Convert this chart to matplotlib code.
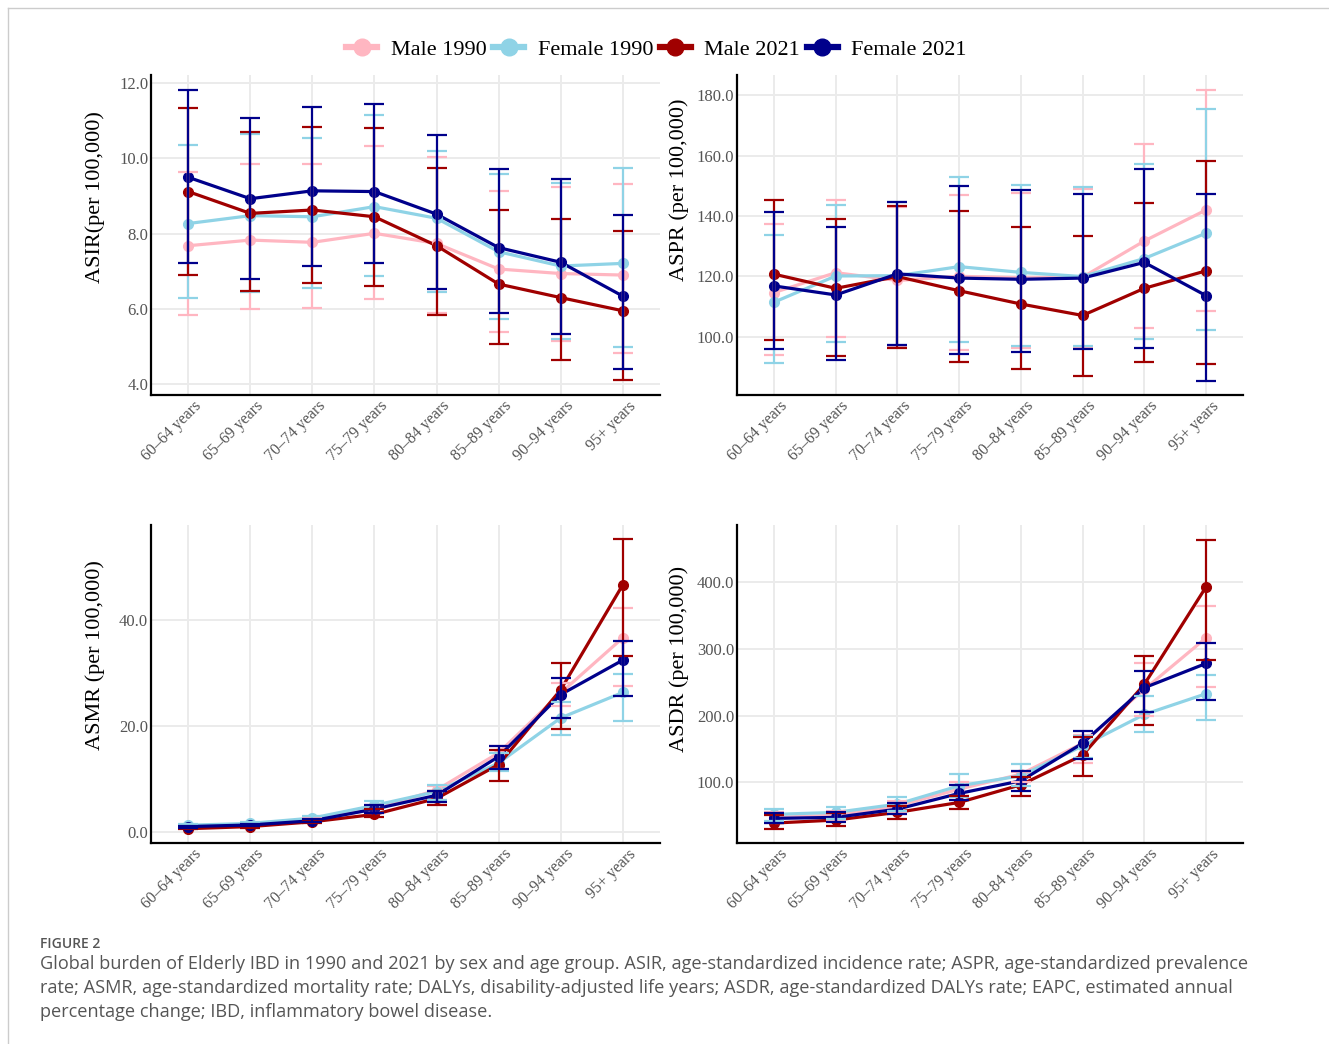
import numpy as np
import matplotlib
matplotlib.use('Agg')
import matplotlib.pyplot as plt
import matplotlib.transforms as mtransforms
from matplotlib.lines import Line2D

plt.rcParams['font.family'] = 'Liberation Serif'

ages = ['60–64 years', '65–69 years', '70–74 years', '75–79 years',
        '80–84 years', '85–89 years', '90–94 years', '95+ years']
series = ['Male 1990', 'Female 1990', 'Male 2021', 'Female 2021']
colors = ['#FFB6C1', '#8FD3E6', '#A00000', '#00008B']

# ASIR
asir_m1990 = [7.68, 7.83, 7.77, 8.01, 7.74, 7.06, 6.94, 6.90]
asir_m1990_lo = [5.84, 6.00, 6.03, 6.27, 5.88, 5.39, 5.14, 4.82]
asir_m1990_hi = [9.63, 9.85, 9.86, 10.34, 10.04, 9.14, 9.25, 9.31]
asir_f1990 = [8.27, 8.48, 8.45, 8.72, 8.41, 7.52, 7.14, 7.21]
asir_f1990_lo = [6.28, 6.45, 6.55, 6.88, 6.46, 5.72, 5.21, 4.99]
asir_f1990_hi = [10.36, 10.64, 10.54, 11.16, 10.20, 9.58, 9.35, 9.76]
asir_m2021 = [9.12, 8.54, 8.63, 8.45, 7.68, 6.66, 6.30, 5.95]
asir_m2021_lo = [6.90, 6.48, 6.68, 6.61, 5.83, 5.06, 4.64, 4.10]
asir_m2021_hi = [11.35, 10.70, 10.83, 10.81, 9.76, 8.63, 8.38, 8.08]
asir_f2021 = [9.50, 8.93, 9.14, 9.12, 8.52, 7.63, 7.24, 6.34]
asir_f2021_lo = [7.23, 6.79, 7.15, 7.23, 6.53, 5.88, 5.32, 4.41]
asir_f2021_hi = [11.82, 11.07, 11.38, 11.45, 10.63, 9.71, 9.45, 8.50]

# ASPR
aspr_m1990 = [114.6, 121.2, 118.6, 120.0, 119.5, 119.7, 131.7, 142.0]
aspr_m1990_lo = [93.9, 99.8, 96.5, 95.6, 96.1, 96.3, 103.0, 108.5]
aspr_m1990_hi = [137.3, 145.4, 143.1, 147.0, 147.6, 149.0, 163.8, 181.9]
aspr_f1990 = [111.4, 120.1, 120.2, 123.2, 121.3, 119.9, 125.9, 134.3]
aspr_f1990_lo = [91.2, 98.3, 97.2, 98.3, 97.0, 96.7, 99.1, 102.2]
aspr_f1990_hi = [133.7, 143.7, 144.5, 152.9, 150.3, 149.6, 157.2, 175.5]
aspr_m2021 = [120.7, 116.0, 119.9, 115.2, 110.8, 107.0, 116.0, 121.8]
aspr_m2021_lo = [98.9, 93.4, 96.1, 91.7, 89.3, 86.9, 91.7, 90.8]
aspr_m2021_hi = [145.4, 138.9, 143.4, 141.5, 136.5, 133.4, 144.2, 158.4]
aspr_f2021 = [116.8, 113.8, 120.8, 119.4, 119.0, 119.4, 124.6, 113.6]
aspr_f2021_lo = [95.8, 92.3, 97.2, 94.2, 94.8, 95.8, 96.1, 85.4]
aspr_f2021_hi = [141.3, 136.5, 144.8, 150.0, 148.5, 147.3, 155.5, 147.3]

# ASMR
asmr_m1990 = [1.0, 1.3, 2.2, 4.3, 7.9, 14.9, 26.2, 36.6]
asmr_m1990_lo = [0.8, 1.0, 1.8, 3.6, 6.1, 11.8, 23.7, 27.6]
asmr_m1990_hi = [1.2, 1.6, 2.6, 5.0, 8.6, 16.2, 28.1, 42.2]
asmr_f1990 = [1.25, 1.6, 2.6, 5.0, 7.6, 13.0, 21.5, 26.3]
asmr_f1990_lo = [1.0, 1.3, 2.2, 4.3, 6.1, 11.5, 18.2, 21.0]
asmr_f1990_hi = [1.5, 1.9, 3.0, 5.8, 8.8, 14.9, 24.5, 29.8]
asmr_m2021 = [0.6, 1.0, 1.9, 3.3, 6.3, 12.7, 26.8, 46.6]
asmr_m2021_lo = [0.5, 0.8, 1.6, 2.8, 5.1, 9.6, 19.4, 33.2]
asmr_m2021_hi = [0.8, 1.2, 2.2, 4.3, 7.7, 15.5, 31.9, 55.2]
asmr_f2021 = [1.0, 1.3, 2.1, 4.3, 6.9, 14.2, 25.9, 32.4]
asmr_f2021_lo = [0.8, 1.1, 1.8, 3.6, 5.6, 11.8, 21.5, 25.6]
asmr_f2021_hi = [1.2, 1.5, 2.5, 5.0, 7.7, 16.2, 29.0, 36.1]

# ASDR
asdr_m1990 = [47.7, 51.0, 65.0, 90.0, 112.5, 158.8, 239.5, 316.7]
asdr_m1990_lo = [39.0, 42.7, 55.0, 80.0, 100.0, 129.9, 199.6, 243.5]
asdr_m1990_hi = [56.0, 57.6, 72.6, 100.0, 115.0, 170.8, 279.0, 364.0]
asdr_f1990 = [52.2, 55.2, 67.6, 95.0, 110.0, 154.8, 202.0, 233.0]
asdr_f1990_lo = [42.7, 45.0, 57.6, 77.6, 95.0, 137.0, 176.0, 193.0]
asdr_f1990_hi = [60.0, 64.0, 77.6, 112.5, 127.4, 170.0, 229.5, 260.4]
asdr_m2021 = [39.2, 43.7, 55.2, 70.1, 96.5, 140.9, 247.0, 393.0]
asdr_m2021_lo = [30.2, 35.0, 46.0, 60.0, 80.0, 110.0, 186.0, 284.0]
asdr_m2021_hi = [51.0, 54.0, 65.0, 80.0, 108.5, 168.0, 289.0, 463.7]
asdr_f2021 = [46.2, 47.7, 60.1, 83.6, 102.5, 158.8, 242.0, 278.4]
asdr_f2021_lo = [38.7, 40.2, 52.7, 74.1, 87.5, 135.0, 205.6, 223.0]
asdr_f2021_hi = [53.7, 55.2, 68.6, 96.0, 117.4, 177.0, 267.0, 309.0]

panels = [
    ('ASIR(per 100,000)', [4, 6, 8, 10, 12], (3.71, 12.22),
     [(asir_m1990, asir_m1990_lo, asir_m1990_hi), (asir_f1990, asir_f1990_lo, asir_f1990_hi),
      (asir_m2021, asir_m2021_lo, asir_m2021_hi), (asir_f2021, asir_f2021_lo, asir_f2021_hi)]),
    ('ASPR (per 100,000)', [100, 120, 140, 160, 180], (80.6, 186.8),
     [(aspr_m1990, aspr_m1990_lo, aspr_m1990_hi), (aspr_f1990, aspr_f1990_lo, aspr_f1990_hi),
      (aspr_m2021, aspr_m2021_lo, aspr_m2021_hi), (aspr_f2021, aspr_f2021_lo, aspr_f2021_hi)]),
    ('ASMR (per 100,000)', [0, 20, 40], (-2.1, 57.9),
     [(asmr_m1990, asmr_m1990_lo, asmr_m1990_hi), (asmr_f1990, asmr_f1990_lo, asmr_f1990_hi),
      (asmr_m2021, asmr_m2021_lo, asmr_m2021_hi), (asmr_f2021, asmr_f2021_lo, asmr_f2021_hi)]),
    ('ASDR (per 100,000)', [100, 200, 300, 400], (9.3, 486),
     [(asdr_m1990, asdr_m1990_lo, asdr_m1990_hi), (asdr_f1990, asdr_f1990_lo, asdr_f1990_hi),
      (asdr_m2021, asdr_m2021_lo, asdr_m2021_hi), (asdr_f2021, asdr_f2021_lo, asdr_f2021_hi)]),
]

W, H = 1329, 1044
fig = plt.figure(figsize=(W / 100, H / 100), dpi=100)

# axes boxes in pixels: left, right, top, bottom
boxes = [(151, 660, 75, 395), (737, 1243, 75, 395),
         (151, 660, 525, 843), (737, 1243, 525, 843)]
label_y = [0.62, 0.64, 0.59, 0.58]

x = np.arange(len(ages))
for (ylab, yticks, ylim, data), (l, r, t, b), ly in zip(panels, boxes, label_y):
    ax = fig.add_axes([l / W, 1 - b / H, (r - l) / W, (b - t) / H])
    for spine in ['top', 'right']:
        ax.spines[spine].set_visible(False)
    ax.spines['left'].set_linewidth(1.6)
    ax.spines['bottom'].set_linewidth(1.6)
    ax.set_xlim(-0.6, len(ages) - 0.4)
    ax.set_ylim(*ylim)
    ax.set_yticks(yticks)
    ax.set_yticklabels(['%.1f' % v for v in yticks])
    ax.set_xticks(x)
    ax.set_xticklabels([])
    # rotated category labels, nudged like ggplot's hjust/vjust = 1
    trans = ax.get_xaxis_transform() + mtransforms.ScaledTranslation(
        0.05, -0.03, fig.dpi_scale_trans)
    for xi, name in zip(x, ages):
        ax.text(xi, 0, name, transform=trans, rotation=45, ha='right', va='top',
                rotation_mode='anchor', fontsize=11.5, color='#555555')
    ax.tick_params(length=0, labelsize=12, labelcolor='#555555')
    ax.tick_params(axis='y', pad=2)
    ax.grid(True, color='#EBEBEB', lw=1.4, zorder=0)
    ax.set_axisbelow(True)
    ax.set_ylabel(ylab, fontsize=16)
    ax.yaxis.set_label_coords(-0.09 if l < 700 else -0.095, ly)
    for (vals, lo, hi), c in zip(data, colors):
        ax.plot(x, vals, color=c, lw=2.3, zorder=2)
        ax.plot(x, vals, 'o', color=c, markersize=7, zorder=3)
    for (vals, lo, hi), c in zip(data, colors):
        vals = np.array(vals)
        err = [vals - np.array(lo), np.array(hi) - vals]
        ax.errorbar(x, vals, yerr=err, fmt='none', ecolor=c, elinewidth=1.6,
                    capsize=7.5, capthick=1.6, zorder=4)

handles = [Line2D([], [], color=c, lw=4.5, marker='o', markersize=12) for c in colors]
fig.legend(handles, series, loc='center', bbox_to_anchor=(0.494, 1 - 50 / H), ncol=4,
           frameon=False, fontsize=16, handlelength=1.4, handletextpad=0.6,
           columnspacing=0.3)

# page frame
fig.add_artist(Line2D([8 / W, 8 / W], [0, 1 - 8 / H], color='#cccccc', lw=1))
fig.add_artist(Line2D([8 / W, 1], [1 - 8 / H, 1 - 8 / H], color='#cccccc', lw=1))

fig.text(40 / W, 1 - 944 / H, 'FIGURE 2', family='Open Sans', fontsize=10,
         color='#555555', va='center', weight='semibold')
caption = ['Global burden of Elderly IBD in 1990 and 2021 by sex and age group. ASIR, age-standardized incidence rate; ASPR, age-standardized prevalence',
           'rate; ASMR, age-standardized mortality rate; DALYs, disability-adjusted life years; ASDR, age-standardized DALYs rate; EAPC, estimated annual',
           'percentage change; IBD, inflammatory bowel disease.']
for i, line in enumerate(caption):
    fig.text(40 / W, 1 - (964 + 24 * i) / H, line, family='Open Sans', fontsize=13.1,
             color='#555555', va='center')

fig.savefig('out.png', dpi=100)
